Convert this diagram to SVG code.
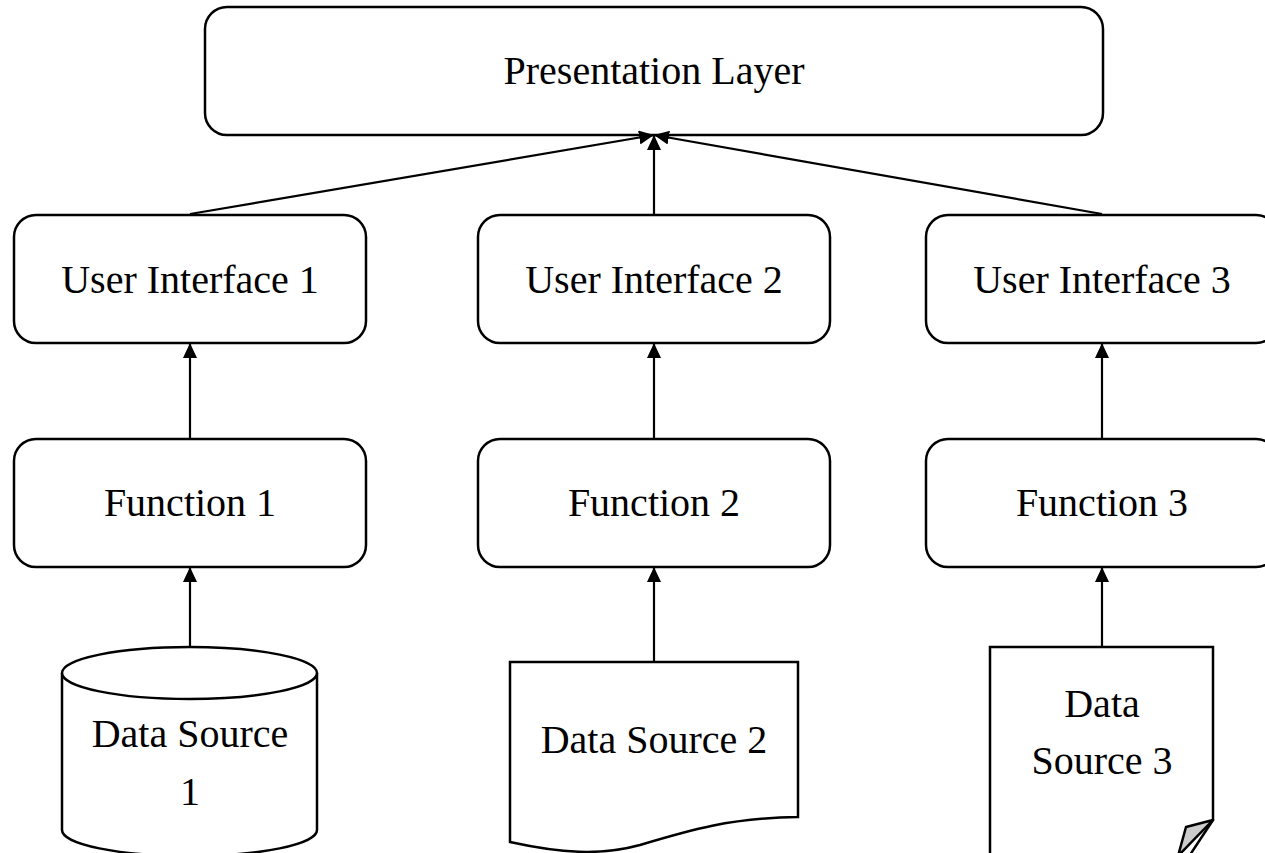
<svg xmlns="http://www.w3.org/2000/svg" width="1265" height="853" viewBox="0 0 1265 853">
<style>
.box{fill:#fff;stroke:#000;stroke-width:2.5}
.lbl{font-family:"Liberation Serif","Times New Roman",serif;font-size:40px;fill:#000;text-anchor:middle}
.conn{stroke:#000;stroke-width:2.2;fill:none;marker-end:url(#arr)}
</style>
<defs>
<marker id="arr" markerUnits="userSpaceOnUse" markerWidth="16" markerHeight="14" refX="15" refY="7" orient="auto">
<path d="M0,0 L15,7 L0,14 z" fill="#000"/>
</marker>
</defs>
<rect width="1265" height="853" fill="#fff"/>
<g id="presentation">
<rect class="box" x="205" y="7" width="898" height="128" rx="22"/>
<text class="lbl" x="654" y="84">Presentation Layer</text>
</g>
<g id="ui1">
<rect class="box" x="14" y="215" width="352" height="128" rx="22"/>
<text class="lbl" x="190" y="293">User Interface 1</text>
</g>
<g id="ui2">
<rect class="box" x="478" y="215" width="352" height="128" rx="22"/>
<text class="lbl" x="654" y="293">User Interface 2</text>
</g>
<g id="ui3">
<rect class="box" x="926" y="215" width="352" height="128" rx="22"/>
<text class="lbl" x="1102" y="293">User Interface 3</text>
</g>
<g id="f1">
<rect class="box" x="14" y="439" width="352" height="128" rx="22"/>
<text class="lbl" x="190" y="516">Function 1</text>
</g>
<g id="f2">
<rect class="box" x="478" y="439" width="352" height="128" rx="22"/>
<text class="lbl" x="654" y="516">Function 2</text>
</g>
<g id="f3">
<rect class="box" x="926" y="439" width="352" height="128" rx="22"/>
<text class="lbl" x="1102" y="516">Function 3</text>
</g>
<g id="ds1">
<path class="box" d="M62,673 L62,830 A127.5,26 0 0 0 317,830 L317,673"/>
<ellipse class="box" cx="189.5" cy="673" rx="127.5" ry="26"/>
<text class="lbl" x="190" y="747">Data Source</text>
<text class="lbl" x="190" y="805">1</text>
</g>
<g id="ds2">
<path class="box" d="M510,662 L798,662 L798,817 C730,818 690,830 640,845 C600,856 560,853 510,842 Z"/>
<text class="lbl" x="654" y="753">Data Source 2</text>
</g>
<g id="ds3">
<path class="box" d="M990,870 L990,647 L1213,647 L1213,820 L1180,870"/>
<path d="M1213,820 L1186,827 L1178,856 Z" fill="#ccc" stroke="#000" stroke-width="2.5" stroke-linejoin="round"/>
<text class="lbl" x="1102" y="717">Data</text>
<text class="lbl" x="1102" y="774">Source 3</text>
</g>
<g id="connectors">
<line class="conn" x1="190" y1="214" x2="654" y2="135"/>
<line class="conn" x1="654" y1="214" x2="654" y2="135"/>
<line class="conn" x1="1102" y1="214" x2="654" y2="135"/>
<line class="conn" x1="190" y1="439" x2="190" y2="343"/>
<line class="conn" x1="654" y1="439" x2="654" y2="343"/>
<line class="conn" x1="1102" y1="439" x2="1102" y2="343"/>
<line class="conn" x1="190" y1="647" x2="190" y2="567"/>
<line class="conn" x1="654" y1="662" x2="654" y2="567"/>
<line class="conn" x1="1102" y1="647" x2="1102" y2="567"/>
</g>
</svg>
